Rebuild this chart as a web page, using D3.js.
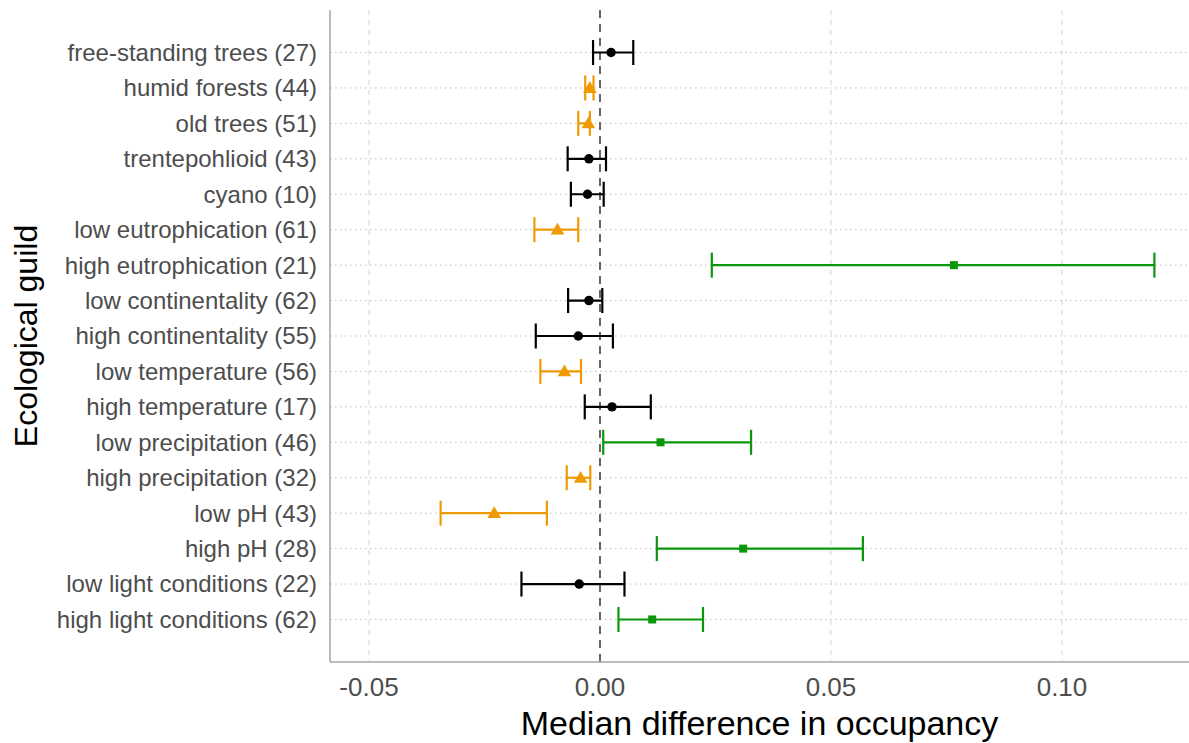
<!DOCTYPE html>
<html>
<head>
<meta charset="utf-8">
<script src="https://cdn.jsdelivr.net/npm/d3@7"></script>
<style>
  body { margin: 0; background: #fff; }
  svg { display: block; font-family: "Liberation Sans", Arial, sans-serif; }
</style>
</head>
<body>
<div id="chart"></div>
<script>
// guild labels, top to bottom
var guilds = [
  "free-standing trees (27)", "humid forests (44)", "old trees (51)",
  "trentepohlioid (43)", "cyano (10)", "low eutrophication (61)",
  "high eutrophication (21)", "low continentality (62)", "high continentality (55)",
  "low temperature (56)", "high temperature (17)", "low precipitation (46)",
  "high precipitation (32)", "low pH (43)", "high pH (28)",
  "low light conditions (22)", "high light conditions (62)"
];
var medians = [0.0024, -0.0022, -0.0025, -0.0024, -0.0027, -0.0092, 0.0766, -0.0024,
  -0.0047, -0.0077, 0.0026, 0.0131, -0.0042, -0.0229, 0.0310, -0.0045, 0.0113];
var lower = [-0.0015, -0.0032, -0.0047, -0.0070, -0.0063, -0.0142, 0.0242, -0.0069,
  -0.0139, -0.0129, -0.0033, 0.0007, -0.0072, -0.0345, 0.0123, -0.0170, 0.0040];
var upper = [0.0072, -0.0014, -0.0022, 0.0013, 0.0008, -0.0047, 0.1200, 0.0005,
  0.0028, -0.0041, 0.0110, 0.0327, -0.0021, -0.0115, 0.0569, 0.0053, 0.0223];
// ns = not significant, neg = decrease, pos = increase
var effect = ["ns", "neg", "neg", "ns", "ns", "neg", "pos", "ns", "ns", "neg", "ns",
  "pos", "neg", "neg", "pos", "ns", "pos"];
var xTicks = [-0.05, 0, 0.05, 0.10];
var xTickLabels = ["-0.05", "0.00", "0.05", "0.10"];

var width = 1189, height = 743;
var pLeft = 330, pRight = 1189, pTop = 10, pBottom = 662;

var colour = { ns: "#000000", neg: "#EE9A00", pos: "#0A960A" };

var rows = guilds.map(function(g, i) {
  return { guild: g, med: medians[i], lo: lower[i], hi: upper[i], eff: effect[i] };
});

var svg = d3.select("#chart").append("svg")
    .attr("width", width)
    .attr("height", height);

var x = d3.scaleLinear()
    .domain([-0.05844, 0.12749])
    .range([pLeft, pRight]);

var y = d3.scalePoint()
    .domain(guilds)
    .range([pTop, pBottom])
    .padding(1.2);

// vertical grid
svg.append("g").selectAll("line")
    .data(xTicks.filter(function(t) { return t !== 0; }))
    .enter().append("line")
    .attr("x1", function(d) { return x(d); })
    .attr("x2", function(d) { return x(d); })
    .attr("y1", pTop).attr("y2", pBottom)
    .attr("stroke", "#d4d4d4")
    .attr("stroke-width", 1)
    .attr("stroke-dasharray", "5,5");

// horizontal dotted grid
svg.append("g").selectAll("line")
    .data(guilds)
    .enter().append("line")
    .attr("x1", pLeft).attr("x2", pRight)
    .attr("y1", function(d) { return y(d); })
    .attr("y2", function(d) { return y(d); })
    .attr("stroke", "#bdbdbd")
    .attr("stroke-width", 1)
    .attr("stroke-dasharray", "1.5,3.5");

// zero reference line
svg.append("line")
    .attr("x1", x(0)).attr("x2", x(0))
    .attr("y1", pTop).attr("y2", pBottom)
    .attr("stroke", "#666")
    .attr("stroke-width", 2)
    .attr("stroke-dasharray", "8,6");

// axis lines
svg.append("line")
    .attr("x1", pLeft).attr("x2", pLeft)
    .attr("y1", pTop).attr("y2", pBottom)
    .attr("stroke", "#a6a6a6").attr("stroke-width", 1.5);
svg.append("line")
    .attr("x1", pLeft).attr("x2", pRight)
    .attr("y1", pBottom).attr("y2", pBottom)
    .attr("stroke", "#a6a6a6").attr("stroke-width", 1.5);

// x tick labels
svg.append("g").selectAll("text")
    .data(xTicks)
    .enter().append("text")
    .attr("x", function(d) { return x(d); })
    .attr("y", 696)
    .attr("text-anchor", "middle")
    .attr("font-size", 26)
    .attr("fill", "#4d4d4d")
    .text(function(d, i) { return xTickLabels[i]; });

// y tick labels
svg.append("g").selectAll("text")
    .data(guilds)
    .enter().append("text")
    .attr("x", 317)
    .attr("y", function(d) { return y(d); })
    .attr("dy", "0.35em")
    .attr("text-anchor", "end")
    .attr("font-size", 24)
    .attr("fill", "#4d4d4d")
    .text(function(d) { return d; });

// error bars
var cap = 12.5;
var bars = svg.append("g").selectAll("g")
    .data(rows)
    .enter().append("g")
    .attr("stroke", function(d) { return colour[d.eff]; })
    .attr("stroke-width", 2.2)
    .attr("fill", "none");

bars.append("line")
    .attr("x1", function(d) { return x(d.lo); })
    .attr("x2", function(d) { return x(d.hi); })
    .attr("y1", function(d) { return y(d.guild); })
    .attr("y2", function(d) { return y(d.guild); });
bars.append("line")
    .attr("x1", function(d) { return x(d.lo); })
    .attr("x2", function(d) { return x(d.lo); })
    .attr("y1", function(d) { return y(d.guild) - cap; })
    .attr("y2", function(d) { return y(d.guild) + cap; });
bars.append("line")
    .attr("x1", function(d) { return x(d.hi); })
    .attr("x2", function(d) { return x(d.hi); })
    .attr("y1", function(d) { return y(d.guild) - cap; })
    .attr("y2", function(d) { return y(d.guild) + cap; });

// median points, shape by effect
var shapes = { ns: d3.symbolCircle, neg: d3.symbolTriangle, pos: d3.symbolSquare };
var sizes = { ns: 70, neg: 80, pos: 64 };
svg.append("g").selectAll("path")
    .data(rows)
    .enter().append("path")
    .attr("transform", function(d) {
      return "translate(" + x(d.med) + "," + (y(d.guild) + (d.eff === "neg" ? 1 : 0)) + ")";
    })
    .attr("d", function(d) { return d3.symbol().type(shapes[d.eff]).size(sizes[d.eff])(); })
    .attr("fill", function(d) { return colour[d.eff]; });

// axis titles
svg.append("text")
    .attr("x", (pLeft + pRight) / 2)
    .attr("y", 735)
    .attr("text-anchor", "middle")
    .attr("font-size", 34)
    .attr("fill", "#000")
    .text("Median difference in occupancy");

svg.append("text")
    .attr("transform", "translate(37," + ((pTop + pBottom) / 2) + ") rotate(-90)")
    .attr("text-anchor", "middle")
    .attr("font-size", 32)
    .attr("fill", "#000")
    .text("Ecological guild");
</script>
</body>
</html>
